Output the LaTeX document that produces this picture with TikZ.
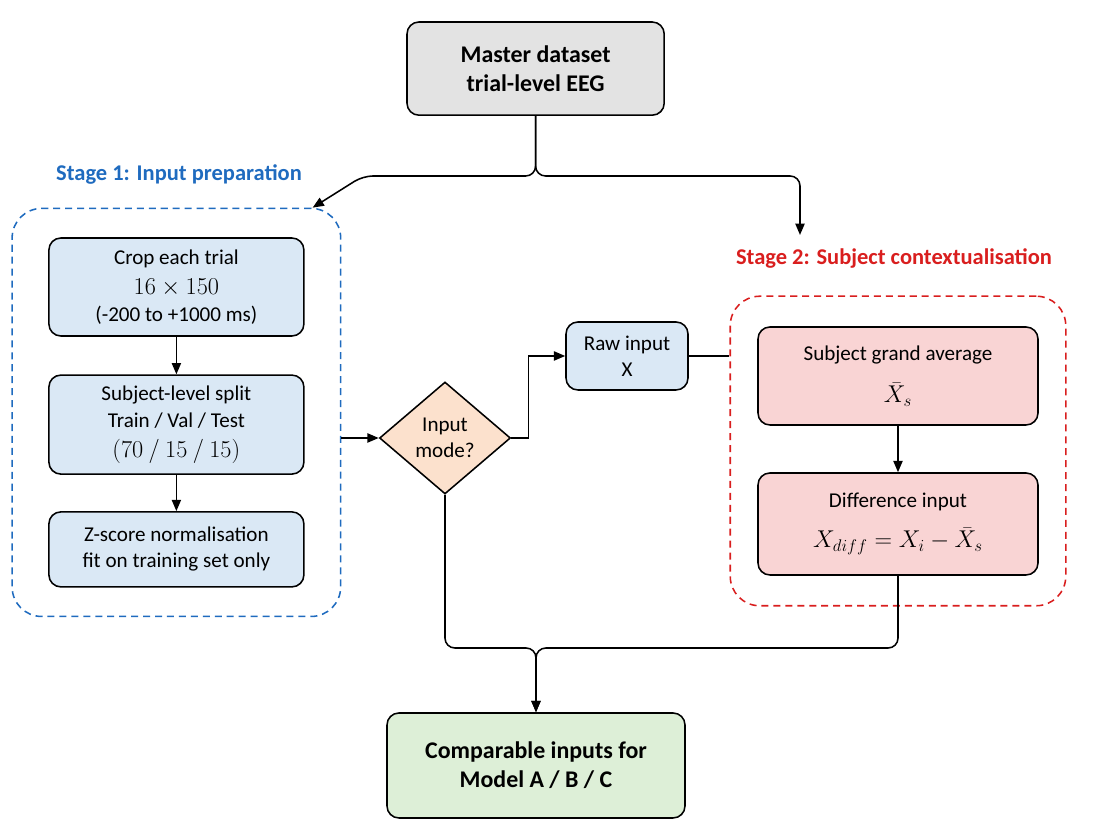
\documentclass[tikz,border=0pt]{standalone}
\usepackage{amsmath,amssymb}
\usepackage{fontspec}
\setmainfont{Carlito}
\usetikzlibrary{arrows.meta,shapes.geometric,fit}

\definecolor{greyfill}{HTML}{E3E3E3}
\definecolor{bluefill}{HTML}{DAE8F5}
\definecolor{peachfill}{HTML}{FCE1CD}
\definecolor{pinkfill}{HTML}{F9D4D4}
\definecolor{greenfill}{HTML}{DDEFD7}
\definecolor{stageblue}{HTML}{1F6BBF}
\definecolor{stagered}{HTML}{D91E1E}

\tikzset{
 box/.style={draw, line width=1.1pt, rounded corners=8.5pt, align=center, inner sep=0pt,
  font=\fontsize{15}{18.5}\selectfont},
 headbox/.style={box, font=\bfseries\fontsize{17}{20.6}\selectfont},
 stagebox/.style={draw, line width=1.1pt, rounded corners=21pt, dash pattern=on 5pt off 3.5pt},
 stagelabel/.style={font=\bfseries\fontsize{16}{19}\selectfont},
}
\newcommand{\mathbig}[1]{{\fontsize{16.5}{20}\selectfont$#1$}}

\begin{document}
\begin{tikzpicture}[>={Triangle[length=8pt,width=6.5pt]}, line width=1.1pt]
 \useasboundingbox (0,0) rectangle (27.35,20.525);

 \node[headbox, fill=greyfill, minimum width=6.43cm, minimum height=2.33cm] (master) at (13.39,18.81) {Master dataset\\trial-level EEG};

 % stage 1
 \node[stagelabel, text=stageblue] (s1label) at (4.475,16.15) {Stage 1: Input preparation};
 \node[box, fill=bluefill, minimum width=6.375cm, minimum height=2.45cm] (crop) at (4.41,13.35) {Crop each trial\\[3pt]\mathbig{16\times150}\\[1pt](-200 to +1000 ms)};
 \node[box, fill=bluefill, minimum width=6.375cm, minimum height=2.475cm] (split) at (4.41,9.91) {Subject-level split\\[1pt]Train / Val / Test\\[3pt]\mathbig{(70 \mathbin{/} 15 \mathbin{/} 15)}};
 \node[box, fill=bluefill, minimum width=6.375cm, minimum height=1.875cm] (zscore) at (4.41,6.79) {Z-score normalisation\\fit on training set only};
 \node[stagebox, draw=stageblue, inner xsep=0.9cm, inner ysep=0.72cm, fit=(crop)(zscore)] (stageA) {};

 \node[diamond, draw, line width=1.1pt, fill=peachfill, minimum width=3.275cm, minimum height=2.8cm, inner sep=0pt, align=center, font=\fontsize{15}{18.5}\selectfont] (mode) at (11.125,9.575) {Input\\mode?};
 \node[box, fill=bluefill, minimum width=3.05cm, minimum height=1.7cm] (raw) at (15.675,11.625) {Raw input\\X};

 % stage 2
 \node[stagelabel, text=stagered] (s2label) at (22.35,14.05) {Stage 2: Subject contextualisation};
 \node[box, fill=pinkfill, minimum width=7cm, minimum height=2.45cm] (gavg) at (22.45,11.125) {Subject grand average\\[12pt]\mathbig{\bar{X}_s}};
 \node[box, fill=pinkfill, minimum width=7cm, minimum height=2.55cm] (diff) at (22.45,7.425) {Difference input\\[10pt]\mathbig{X_{diff}=X_i-\bar{X}_s}};
 \node[stagebox, draw=stagered, inner xsep=0.675cm, inner ysep=0.75cm, fit=(gavg)(diff)] (stageB) {};

 \node[headbox, fill=greenfill, minimum width=7.45cm, minimum height=2.625cm] (models) at (13.4,1.3875) {Comparable inputs for\\Model A / B / C};

 % connectors
 \coordinate (s1entry) at ([xshift=-0.72cm]stageA.north east);
 \coordinate (s2entry) at (20,14.65);
 \draw[->, rounded corners=7pt] (master.south) |- (9.075,16.125) -- (s1entry);
 \draw[->, rounded corners=7pt] (master.south) |- (20,16.125) -- (s2entry);

 \draw[->] (crop) -- (split);
 \draw[->] (split) -- (zscore);
 \draw[->] (mode.west -| stageA.east) -- (mode.west);
 \draw[->] (mode.east) -- ++(0.425,0) |- (raw.west);
 \draw (raw.east) -- (raw.east -| stageB.west);
 \draw[->] (gavg) -- (diff);

 \coordinate (join) at (13.4,4.325);
 \draw[->, rounded corners=7pt] (mode.south) |- (join) -- (models.north);
 \draw[->, rounded corners=7pt] (diff.south) |- (join) -- (models.north);
\end{tikzpicture}
\end{document}
